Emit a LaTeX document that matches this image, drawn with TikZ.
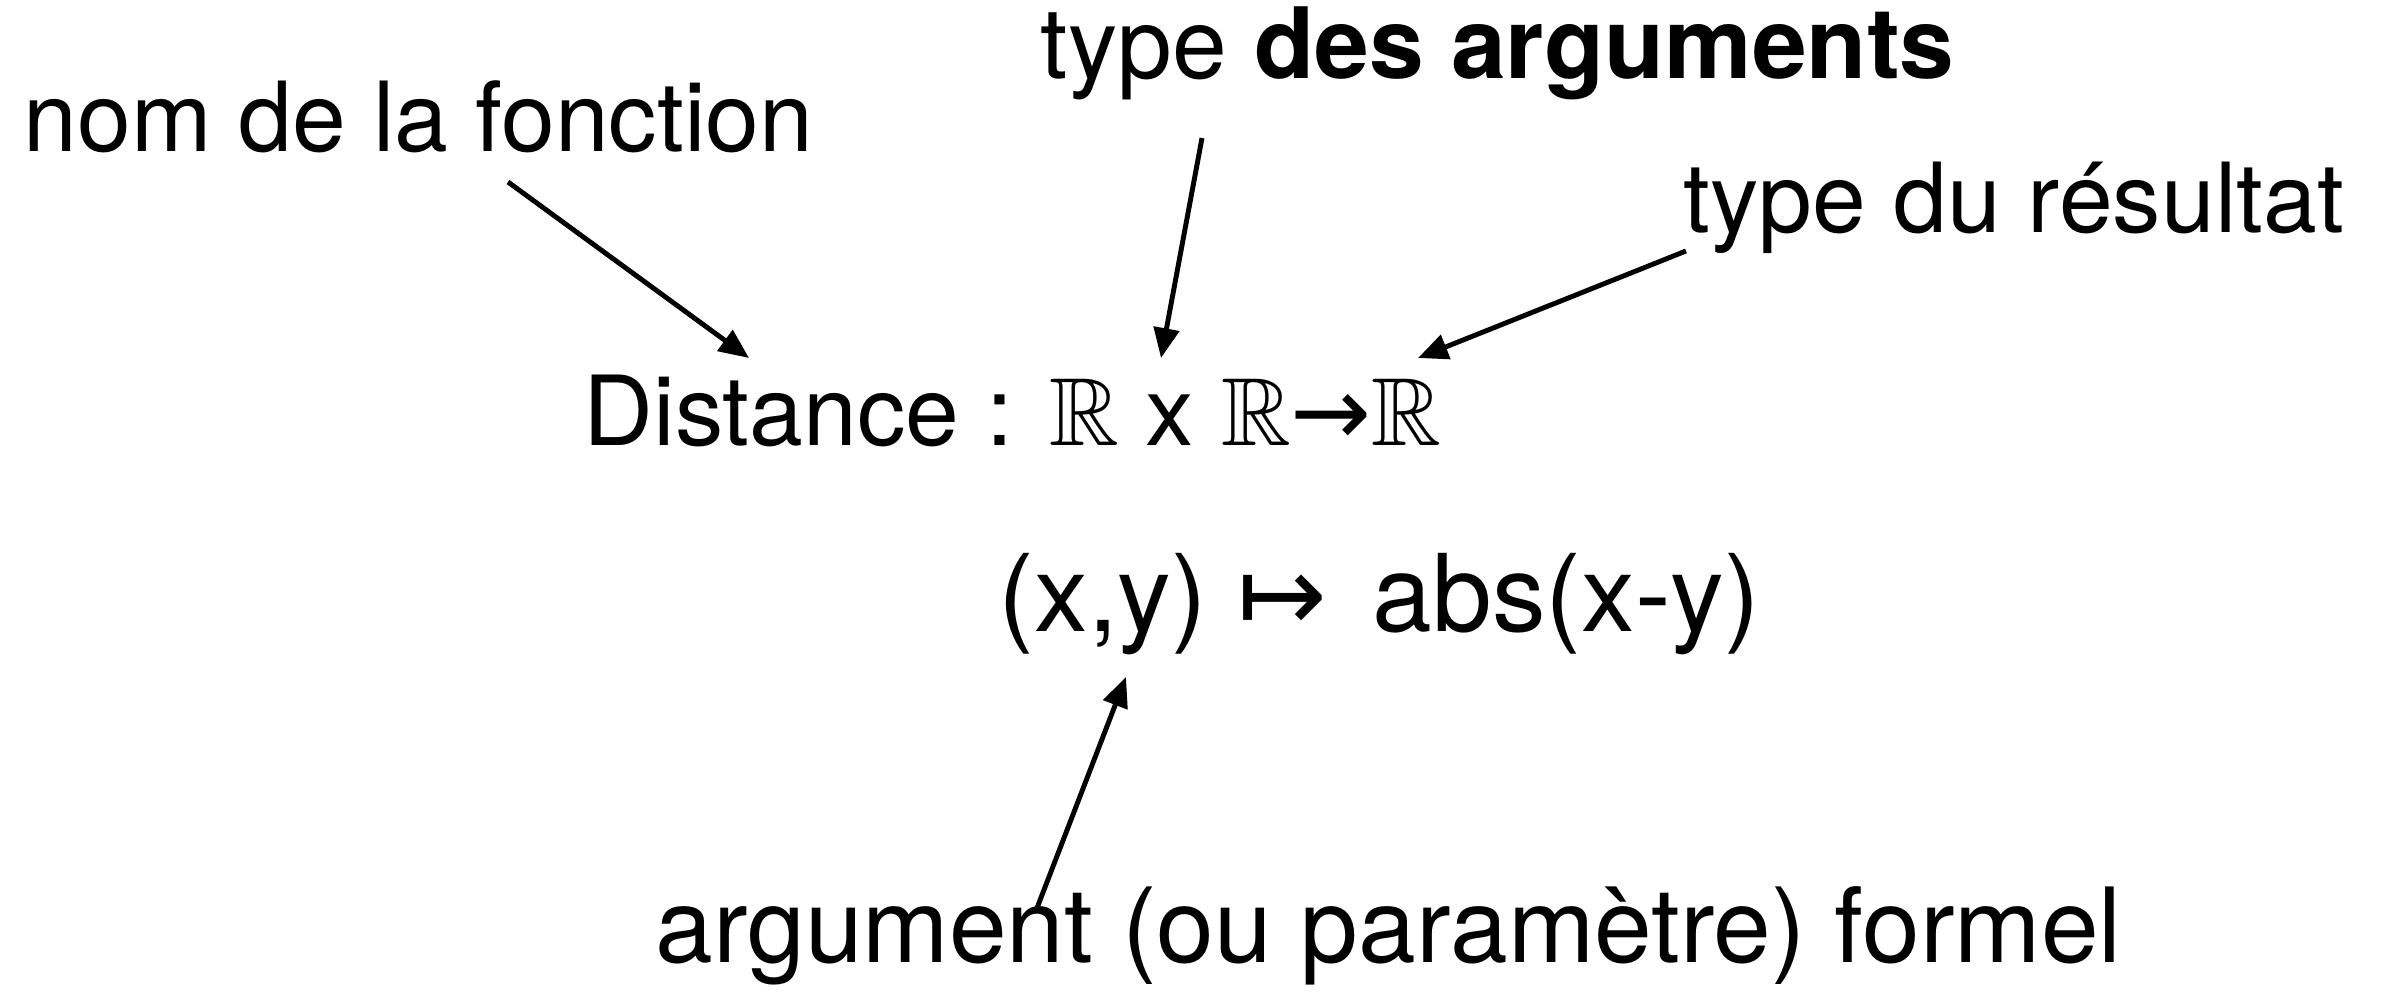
\documentclass[tikz,border=0pt]{standalone}
\usepackage{fontspec}
\usepackage{amssymb}
\setmainfont{TeX Gyre Heros}
\newfontfamily\dejavu{DejaVu Sans}
\usetikzlibrary{arrows.meta}
\begin{document}
\begin{tikzpicture}[x=0.01cm,y=-0.01cm,
  lbl/.style={anchor=base west,inner sep=0pt,font=\fontsize{27.5}{33}\selectfont},
  arr/.style={line width=1.4pt,-{Triangle[length=8.5pt,width=7.2pt]}}]
\useasboundingbox (0,0) rectangle (2388,992);
\node[lbl] (nom) at (23,152) {nom de la fonction};
\node[lbl,font=\fontsize{28}{33}\selectfont] (targ) at (1040,79) {type \textbf{des arguments}};
\node[lbl] (tres) at (1683,233) {type du résultat};
\node[lbl] (dist) at (583,446) {Distance : $\mathbb{R}$ x $\mathbb{R}${\dejavu →}$\mathbb{R}$};
\node[lbl,font=\fontsize{30.5}{36}\selectfont] (map) at (998,632) {(x,y) {\dejavu ↦}\hspace{0.15em} abs(x-y)};
\node[lbl,font=\fontsize{29.5}{35}\selectfont] (arg) at (655,962) {argument (ou paramètre) formel};
\coordinate (a1s) at (508,182); \coordinate (a1e) at (749,358);
\coordinate (a2s) at (1202,138); \coordinate (a2e) at (1161,358);
\coordinate (a3s) at (1686,251); \coordinate (a3e) at (1418,358);
\coordinate (a4s) at (1037,908); \coordinate (a4e) at (1126,677);
\draw[arr] (a1s) -- (a1e);
\draw[arr] (a2s) -- (a2e);
\draw[arr] (a3s) -- (a3e);
\draw[arr] (a4s) -- (a4e);
\end{tikzpicture}
\end{document}
